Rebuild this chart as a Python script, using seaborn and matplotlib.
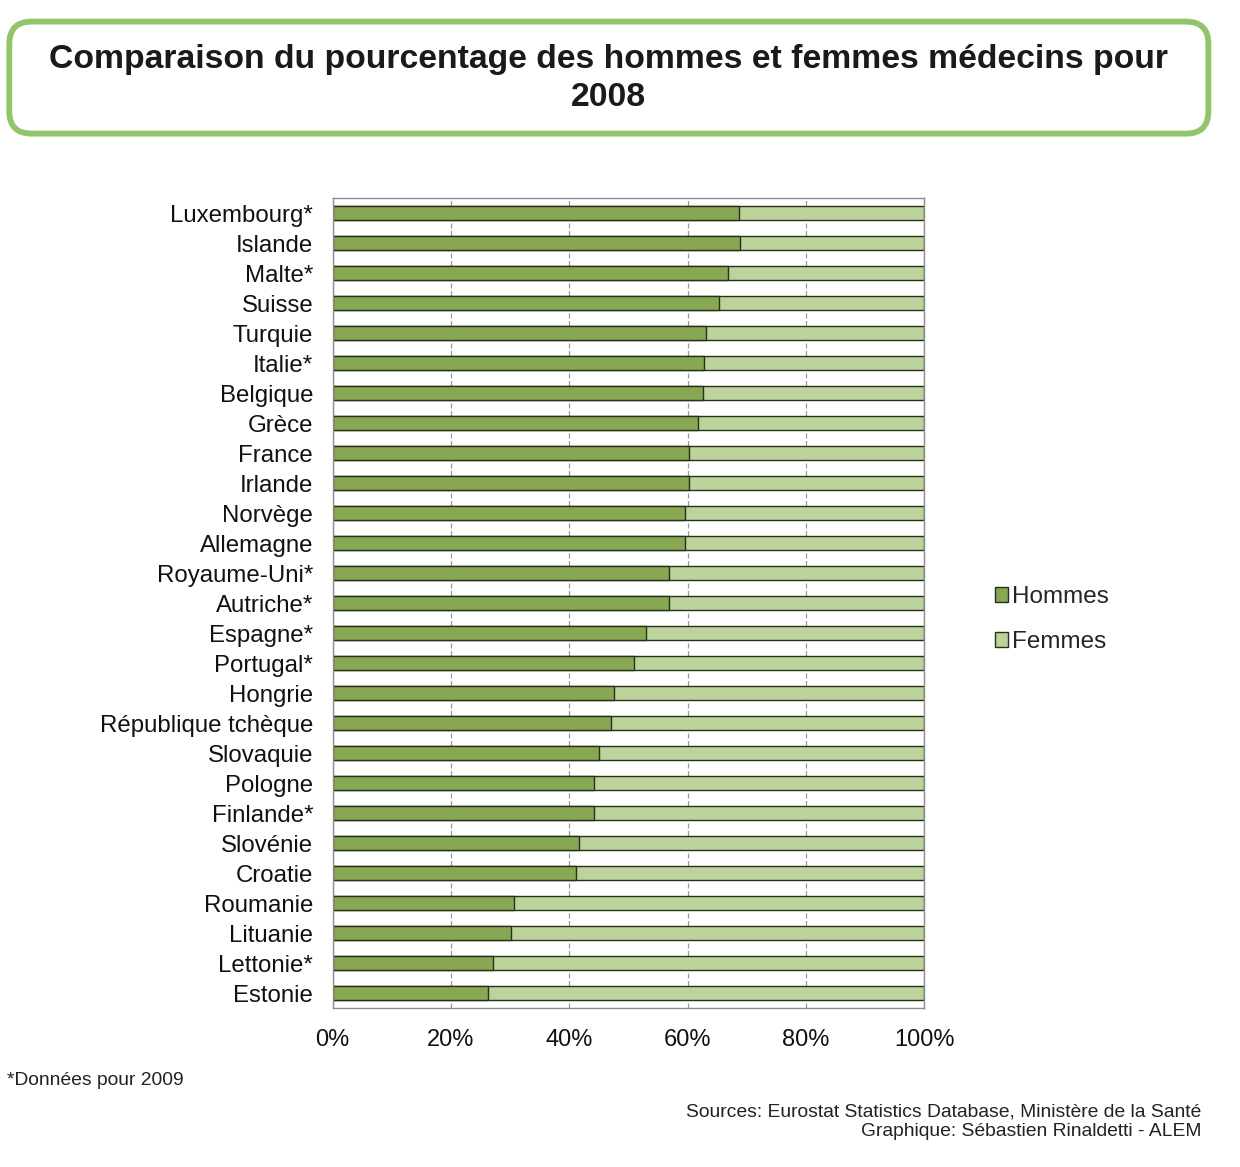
import matplotlib
matplotlib.use("Agg")
import matplotlib.pyplot as plt
from matplotlib.patches import FancyBboxPatch
from matplotlib.ticker import FuncFormatter
import seaborn as sns
import pandas as pd

countries = ["Luxembourg*", "Islande", "Malte*", "Suisse", "Turquie", "Italie*",
             "Belgique", "Grèce", "France", "Irlande", "Norvège", "Allemagne",
             "Royaume-Uni*", "Autriche*", "Espagne*", "Portugal*", "Hongrie",
             "République tchèque", "Slovaquie", "Pologne", "Finlande*", "Slovénie",
             "Croatie", "Roumanie", "Lituanie", "Lettonie*", "Estonie"]
hommes = [68.7, 68.9, 66.9, 65.4, 63.2, 62.8, 62.6, 61.7, 60.3, 60.3, 59.5, 59.5,
          56.9, 56.9, 52.9, 51.0, 47.6, 47.0, 45.0, 44.2, 44.2, 41.6, 41.1, 30.7,
          30.2, 27.1, 26.3]
femmes = [31.3, 31.1, 33.1, 34.6, 36.8, 37.2, 37.4, 38.3, 39.7, 39.7, 40.5, 40.5,
          43.1, 43.1, 47.1, 49.0, 52.4, 53.0, 55.0, 55.8, 55.8, 58.4, 58.9, 69.3,
          69.8, 72.9, 73.7]
series_labels = ["Hommes", "Femmes"]
xticks = [0, 20, 40, 60, 80, 100]

df = pd.DataFrame({"pays": countries, "hommes": hommes, "femmes": femmes})
df["total"] = df["hommes"] + df["femmes"]

sns.set_theme(style="white")
plt.rcParams["font.family"] = ["Liberation Sans", "DejaVu Sans"]

c_h = "#87a752"
c_f = "#bcd39b"
edge = "#26301a"

fig = plt.figure(figsize=(12.4, 11.67), dpi=100)
ax = fig.add_axes([0.2683, 0.1362, 0.4769, 0.6941])

sns.barplot(data=df, y="pays", x="total", color=c_f, orient="h", width=0.48,
            saturation=1, edgecolor=edge, linewidth=1.0, ax=ax, label=series_labels[1])
sns.barplot(data=df, y="pays", x="hommes", color=c_h, orient="h", width=0.48,
            saturation=1, edgecolor=edge, linewidth=1.0, ax=ax, label=series_labels[0])
handles, labels = ax.get_legend_handles_labels()
if ax.get_legend() is not None:
    ax.get_legend().remove()

ax.set_xlim(0, 100)
ax.set_ylim(len(countries) - 0.5, -0.5)
ax.set_xticks(xticks)
ax.xaxis.set_major_formatter(FuncFormatter(lambda v, p: f"{int(v)}%"))
ax.set_xlabel("")
ax.set_ylabel("")
ax.grid(axis="x", color="#9a9a9a", linestyle=(0, (4, 2)), linewidth=0.9)
ax.set_axisbelow(True)
for s in ax.spines.values():
    s.set_color("#8c8c8c")
    s.set_linewidth(1.0)
ax.tick_params(axis="y", length=0, pad=14, labelsize=17.3, labelcolor="#111111")
ax.tick_params(axis="x", length=0, pad=15, labelsize=17, labelcolor="#111111")

order = [labels.index(series_labels[0]), labels.index(series_labels[1])]
fig.legend([handles[i] for i in order], [labels[i] for i in order],
           loc="center left", bbox_to_anchor=(0.7845, 0.469), frameon=False,
           fontsize=17.5, handlelength=0.55, handleheight=0.6, handletextpad=0.15,
           labelspacing=0.95)

box = FancyBboxPatch((0.0075, 0.8855), 0.967, 0.096, boxstyle="round,pad=0,rounding_size=0.018",
                     transform=fig.transFigure, facecolor="white", edgecolor="#93c46c",
                     linewidth=4.2, mutation_aspect=1240 / 1167)
fig.patches.append(box)
fig.text(0.4907, 0.9325, "Comparaison du pourcentage des hommes et femmes médecins pour\n2008",
         ha="center", va="center", fontsize=24.3, fontweight="bold", color="#1a1a1a",
         linespacing=1.3)

fig.text(0.006, 0.0745, "*Données pour 2009", ha="left", va="center", fontsize=13.9,
         color="#222222")
fig.text(0.969, 0.0385, "Sources: Eurostat Statistics Database, Ministère de la Santé\nGraphique: Sébastien Rinaldetti - ALEM",
         ha="right", va="center", fontsize=13.9, color="#222222", linespacing=1.2)

fig.savefig("out.png", dpi=100, facecolor="white")
